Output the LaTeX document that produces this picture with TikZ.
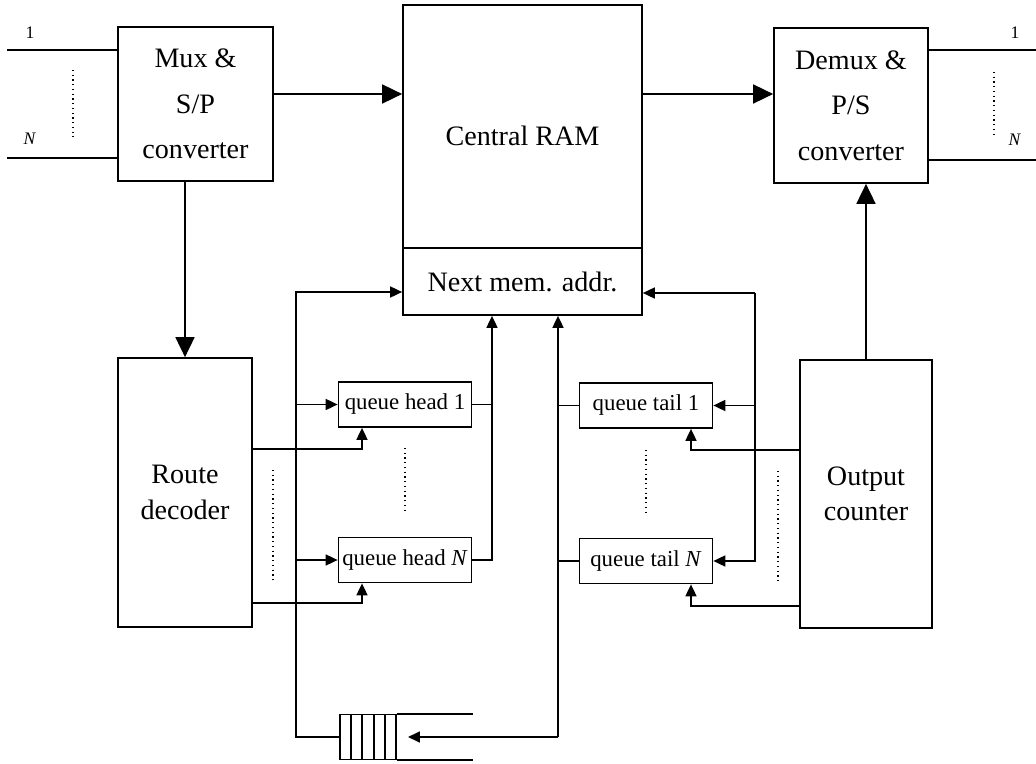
\documentclass[tikz,border=0pt]{standalone}
\usepackage{fontspec}
\setmainfont{Liberation Serif}
\usetikzlibrary{arrows.meta}
\tikzstyle{block}=[draw, line width=1pt, inner sep=0pt, align=center, font=\fontsize{16}{26}\selectfont]
\tikzstyle{qbox}=[draw, line width=1pt, inner sep=0pt, minimum width=2.66cm, minimum height=0.9cm, font=\fontsize{13}{15}\selectfont]
\tikzstyle{wire}=[line width=1pt]
\tikzstyle{bigarrow}=[line width=1pt, -{Triangle[length=0.4cm, width=0.38cm]}]
\tikzstyle{smallarrow}=[line width=1pt, -{Triangle[length=0.24cm, width=0.22cm]}]
\tikzstyle{ellip}=[dotted, line width=0.7pt]
\tikzstyle{portlabel}=[font=\fontsize{10}{12}\selectfont]

\begin{document}
\begin{tikzpicture}[x=0.02cm, y=-0.02cm]
				\useasboundingbox (0,0) rectangle (1036,764);

				\node[block, minimum width=3.1cm, minimum height=3.08cm] (mux) at (195.5,104) {Mux \&\\S/P\\converter};
				\node[block, minimum width=4.78cm, minimum height=4.86cm, text height=0.75cm] (ram) at (522.5,126.5) {Central RAM};
				\node[block, minimum width=4.78cm, minimum height=1.34cm] (addr) at (522.5,281.5) {Next mem. addr.};
				\node[block, minimum width=3.08cm, minimum height=3.1cm] (demux) at (851,105.5) {Demux \&\\P/S\\converter};
				\node[block, minimum width=2.68cm, minimum height=5.38cm, font=\fontsize{16}{20}\selectfont] (route) at (185,492.5) {Route\\decoder};
				\node[block, minimum width=2.64cm, minimum height=5.36cm, font=\fontsize{16}{20}\selectfont] (counter) at (866,494) {Output\\counter};

				\node[qbox] (qh1) at (405,404.5) {queue head 1};
				\node[qbox] (qhN) at (405,560) {queue head \textit{N}};
				\node[qbox] (qt1) at (646,405.5) {queue tail 1};
				\node[qbox] (qtN) at (646,561) {queue tail \textit{N}};

				\node[draw, line width=1pt, inner sep=0pt, minimum width=1.12cm, minimum height=0.9cm] (fifo) at (368,737) {};
				\foreach \cx in {351,362,374,385}
					\draw[wire] (\cx,714.5) -- (\cx,759.5);
				\coordinate (tube) at (473,737);
				\draw[wire] (fifo.north east) -- (fifo.north east -| tube);
				\draw[wire] (fifo.south east) -- (fifo.south east -| tube);

				% inputs and outputs
				\coordinate (in1) at (7,50);
				\coordinate (inN) at (7,158);
				\coordinate (out1) at (1036,50);
				\coordinate (outN) at (1036,160);
				\draw[wire] (in1) -- (in1 -| mux.west);
				\draw[wire] (inN) -- (inN -| mux.west);
				\draw[wire] (out1 -| demux.east) -- (out1);
				\draw[wire] (outN -| demux.east) -- (outN);
				\node[portlabel] (lin1) at (30,33) {1};
				\node[portlabel] (linN) at (30,139) {\textit{N}};
				\node[portlabel] (lout1) at (1015,33) {1};
				\node[portlabel] (loutN) at (1015,140) {\textit{N}};
				\draw[ellip] (73,70) -- (73,137);
				\draw[ellip] (994,72) -- (994,137);

				% data path
				\coordinate (dbus) at (0,94);
				\draw[bigarrow] (mux.east |- dbus) -- (ram.west |- dbus);
				\draw[bigarrow] (ram.east |- dbus) -- (demux.west |- dbus);
				\draw[bigarrow] (mux.south -| route.north) -- (route.north);
				\draw[bigarrow] (counter.north) -- (counter.north |- demux.south);

				% free list and queue heads
				\coordinate (ltop) at (296,292);
				\coordinate (lbot) at (296,737);
				\draw[smallarrow] (fifo.west) -- (lbot) -- (ltop) -- (ltop -| addr.west);
				\draw[smallarrow] (ltop |- qh1.west) -- (qh1.west);
				\draw[smallarrow] (ltop |- qhN.west) -- (qhN.west);

				\coordinate (rd1) at (362,449);
				\coordinate (rdN) at (362,603);
				\draw[smallarrow] (route.east |- rd1) -- (rd1) -- (rd1 |- qh1.south);
				\draw[smallarrow] (route.east |- rdN) -- (rdN) -- (rdN |- qhN.south);
				\draw[ellip] (273,470) -- (273,582);
				\draw[ellip] (405,448) -- (405,513);

				\coordinate (hbus) at (492,560);
				\draw[wire] (qh1.east) -- (qh1.east -| hbus);
				\draw[smallarrow] (qhN.east) -- (hbus) -- (hbus |- addr.south);

				% queue tails
				\coordinate (tbus) at (558,737);
				\coordinate (fin) at (408,737);
				\draw[smallarrow] (tbus) -- (tbus |- addr.south);
				\draw[smallarrow] (tbus) -- (fin);
				\draw[wire] (qt1.west) -- (qt1.west -| tbus);
				\draw[wire] (qtN.west) -- (qtN.west -| tbus);

				\coordinate (loop) at (755,293);
				\draw[smallarrow] (loop) -- (loop -| addr.east);
				\draw[smallarrow] (loop) -- (loop |- qtN.east) -- (qtN.east);
				\draw[smallarrow] (loop |- qt1.east) -- (qt1.east);

				\coordinate (oc1) at (691,450);
				\coordinate (ocN) at (691,606);
				\draw[smallarrow] (counter.west |- oc1) -- (oc1) -- (oc1 |- qt1.south);
				\draw[smallarrow] (counter.west |- ocN) -- (ocN) -- (ocN |- qtN.south);
				\draw[ellip] (646,450) -- (646,515);
				\draw[ellip] (778,471) -- (778,584);
			\end{tikzpicture}
\end{document}
